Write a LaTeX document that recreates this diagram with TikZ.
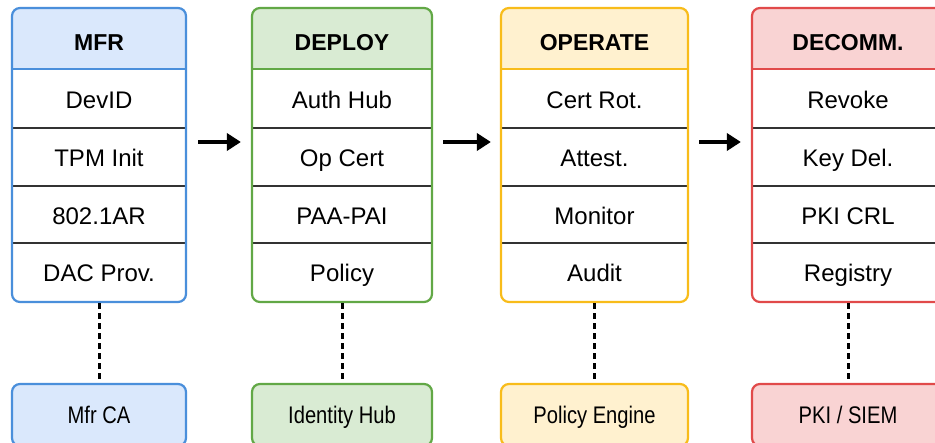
\documentclass[tikz,border=0pt]{standalone}
\usepackage{fontspec}
\setmainfont{Liberation Sans}
\newfontfamily\narrowfont{Liberation Sans}[FakeStretch=0.84]
\usetikzlibrary{arrows.meta}

\definecolor{mfrline}{HTML}{4A8FDB}
\definecolor{mfrfill}{HTML}{DAE8FC}
\definecolor{depline}{HTML}{62A846}
\definecolor{depfill}{HTML}{D9EBD3}
\definecolor{opline}{HTML}{F8BC1A}
\definecolor{opfill}{HTML}{FFF1CF}
\definecolor{decline}{HTML}{E14A4A}
\definecolor{decfill}{HTML}{F9D3D3}
\definecolor{rule}{HTML}{333333}

\tikzset{
  x=1pt, y=-1pt,
  stagebox/.style={draw=#1, line width=2.2pt, rounded corners=8pt, inner sep=0pt},
  hdrtext/.style={font=\fontsize{23}{23}\selectfont\bfseries, text height=16.5pt, text depth=0pt, inner sep=0pt},
  itemtext/.style={font=\fontsize{24}{24}\selectfont, text height=17.2pt, text depth=0pt, inner sep=0pt},
  sysbox/.style={draw=#1, line width=2.2pt, rounded corners=8pt, inner sep=0pt,
    font=\narrowfont\fontsize{24}{24}\selectfont, text height=17.2pt, text depth=0pt},
  divider/.style={draw=rule, line width=1.2pt},
  flow/.style={draw=black, line width=3.6pt, -{Triangle[length=14pt,width=17pt]}},
  link/.style={draw=black, line width=3pt, dash pattern=on 6pt off 4pt},
}

\begin{document}
\begin{tikzpicture}
\useasboundingbox (0,0) rectangle (935,443);
\clip (0,0) rectangle (935,443);
\fill[white] (0,0) rectangle (935,443);

% stage columns: index / left / right / centre / line colour / fill colour / header / four items / system
\foreach \i/\l/\r/\c/\lc/\fc/\hd/\ia/\ib/\ic/\id/\sy in {
  1/12/186/99/mfrline/mfrfill/MFR/DevID/TPM Init/802.1AR/DAC Prov./Mfr CA,
  2/252/432/342/depline/depfill/DEPLOY/Auth Hub/Op Cert/PAA-PAI/Policy/Identity Hub,
  3/501/688/594.5/opline/opfill/OPERATE/Cert Rot./Attest./Monitor/Audit/Policy Engine,
  4/752/944/848/decline/decfill/DECOMM./Revoke/Key Del./PKI CRL/Registry/{PKI / SIEM}} {
  % header band
  \begin{scope}
    \clip[rounded corners=8pt] (\l,8) rectangle (\r,302);
    \fill[\fc] (\l,8) rectangle (\r,69);
  \end{scope}
  % row dividers
  \foreach \y in {69,128,186,243} {
    \draw[divider] (\l,\y) -- (\r,\y);
  }
  \draw[divider, draw=\lc] (\l,69) -- (\r,69);
  % outline of the stage
  \node[stagebox=\lc, minimum width={\r-\l}, minimum height=294pt] (col\i) at (\c,155) {};
  % texts
  \node[hdrtext] (col\i h) at (\c,42) {\hd};
  \node[itemtext] (col\i a) at (\c,100) {\ia};
  \node[itemtext] (col\i b) at (\c,158) {\ib};
  \node[itemtext] (col\i c) at (\c,215.5) {\ic};
  \node[itemtext] (col\i d) at (\c,273) {\id};
  % supporting system
  \node[sysbox=\lc, fill=\fc, minimum width={\r-\l}, minimum height=62pt] (sys\i) at (\c,415) {\sy};
  \draw[link] (col\i.south) -- (sys\i.north);
}

% flow between stages
\coordinate (ay) at (0,142);
\draw[flow, shorten <=11pt, shorten >=10pt] (col1.east |- ay) -- (col2.west |- ay);
\draw[flow, shorten <=10pt, shorten >=9pt] (col2.east |- ay) -- (col3.west |- ay);
\draw[flow, shorten <=10pt, shorten >=10pt] (col3.east |- ay) -- (col4.west |- ay);
\end{tikzpicture}
\end{document}
